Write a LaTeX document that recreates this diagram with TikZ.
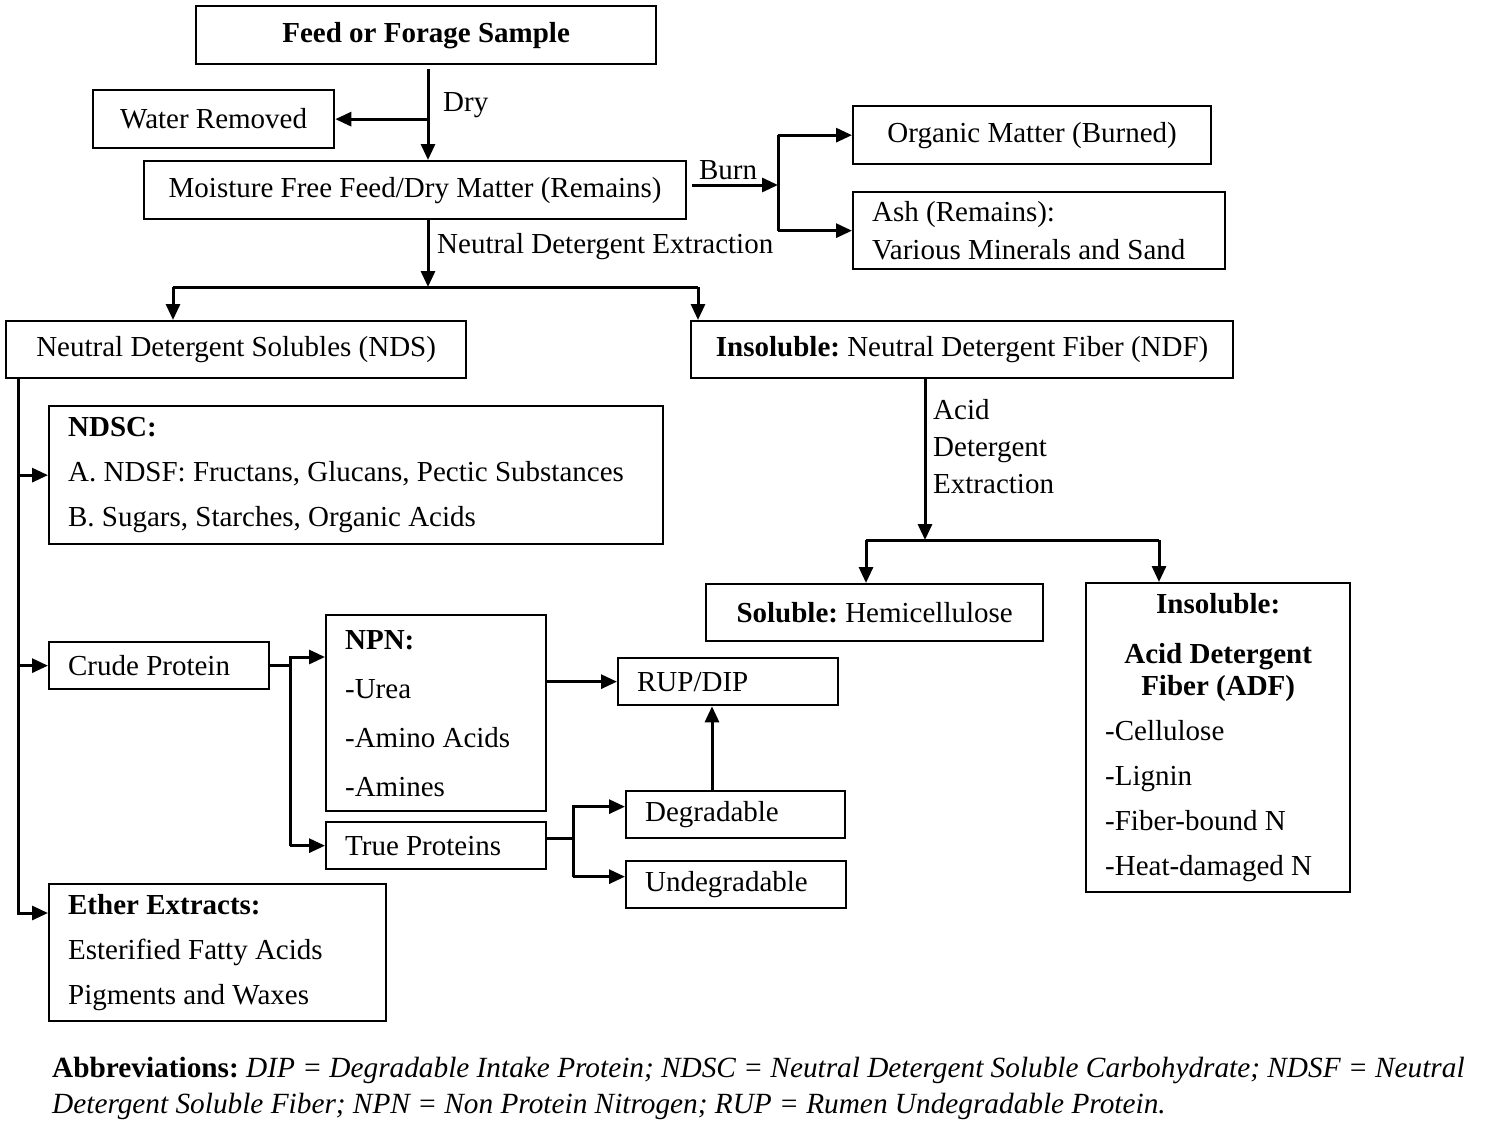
\documentclass[tikz,border=0pt]{standalone}
\usepackage{fontspec}
\setmainfont{Liberation Serif}
\usetikzlibrary{arrows.meta,positioning}
\tikzset{
  box/.style={draw, line width=2.3pt, anchor=north west, inner sep=0pt, align=center,
    font=\fontsize{29pt}{45pt}\selectfont},
  lbox/.style={box, align=flush left, inner xsep=19pt},
  arr/.style={line width=3pt, -{Triangle[length=16pt,width=14pt]}},
  ln/.style={line width=3pt},
  lbl/.style={anchor=west, inner sep=0pt, font=\fontsize{29pt}{37pt}\selectfont},
}

\begin{document}
\frenchspacing
\begin{tikzpicture}[x=1pt,y=-1pt]
\useasboundingbox (0,0) rectangle (1500,1140);

% top part
\node[box, minimum width=460pt, minimum height=58pt] (feed) at (195,5) {\textbf{Feed or Forage Sample}};
\node[box, minimum width=241pt, minimum height=58pt] (water) at (92,89) {Water Removed};
\node[box, minimum width=542pt, minimum height=58pt] (dm) at (143,160) {Moisture Free Feed/Dry Matter (Remains)};
\node[box, minimum width=358pt, minimum height=58pt] (om) at (852,105) {Organic Matter (Burned)};
\node[lbox, text width=334pt, minimum height=77pt, font=\fontsize{29pt}{38pt}\selectfont] (ash) at (852,191)
  {Ash (Remains):\\Various Minerals and Sand};
\node[box, minimum width=460pt, minimum height=57pt] (nds) at (5,320) {Neutral Detergent Solubles (NDS)};
\node[box, minimum width=542pt, minimum height=57pt] (ndf) at (690,320) {\textbf{Insoluble:} Neutral Detergent Fiber (NDF)};

% solubles
\node[lbox, text width=576pt, minimum height=138pt] (ndsc) at (48,405)
  {\textbf{NDSC:}\\A. NDSF: Fructans, Glucans, Pectic Substances\\B. Sugars, Starches, Organic Acids};
\node[lbox, text width=182pt, minimum height=47pt] (cp) at (48,641) {Crude Protein};
\node[lbox, text width=182pt, minimum height=196pt, font=\fontsize{29pt}{49pt}\selectfont] (npn) at (325,614)
  {\textbf{NPN:}\\-Urea\\-Amino Acids\\-Amines};
\node[lbox, text width=182pt, minimum height=47pt] (tp) at (325,821) {True Proteins};
\node[lbox, text width=182pt, minimum height=47pt] (rup) at (617,657) {RUP/DIP};
\node[lbox, text width=181pt, minimum height=47pt] (deg) at (625,790) {Degradable};
\node[lbox, text width=182pt, minimum height=47pt] (undeg) at (625,860) {Undegradable};
\node[lbox, text width=299pt, minimum height=137pt] (ether) at (48,883)
  {\textbf{Ether Extracts:}\\Esterified Fatty Acids\\Pigments and Waxes};

% fiber
\node[box, minimum width=337pt, minimum height=57pt] (hemi) at (705,583) {\textbf{Soluble:} Hemicellulose};
\node[lbox, text width=226pt, minimum height=309pt] (adf) at (1085,582)
  {\makebox[226pt]{\textbf{Insoluble:}}\\[5pt]
   \makebox[226pt]{\textbf{Acid Detergent}}\\[-13pt]
   \makebox[226pt]{\textbf{Fiber (ADF)}}\\
   -Cellulose\\-Lignin\\-Fiber-bound N\\-Heat-damaged N};

% labels
\node[lbl] (dry) at (443,105) {Dry};
\node[lbl, anchor=south] (burn) at (728,180) {Burn};
\node[lbl] (nde) at (437,247) {Neutral Detergent Extraction};
\node[lbl, anchor=north west, align=left] (ade) at (933,399) {Acid\\Detergent\\Extraction};

\node[anchor=west, inner sep=0pt, align=flush left, font=\fontsize{29.3pt}{36pt}\selectfont] (abbr) at (52,1088)
  {\textbf{Abbreviations:} \textit{DIP = Degradable Intake Protein; NDSC = Neutral Detergent Soluble Carbohydrate; NDSF = Neutral}\\
   \textit{Detergent Soluble Fiber; NPN = Non Protein Nitrogen; RUP = Rumen Undegradable Protein.}};

% connectors
\coordinate (stem) at (428,0);
\draw[arr] ([yshift=-4pt]stem |- feed.south) -- (stem |- dm.north);
\draw[arr] (stem |- water.east) -- (water.east);

\coordinate (burnfork) at (778,185);
\draw[arr] (dm.east |- burnfork) ++(5,0) -- (burnfork);
\draw[ln] (burnfork |- om.west) -- (burnfork |- ash.west);
\draw[arr] (burnfork |- om.west) -- (om.west);
\draw[arr] (burnfork |- ash.west) -- (ash.west);

\coordinate (fl) at (173,287);
\coordinate (fr) at (698,287);
\draw[arr] (stem |- dm.south) -- (stem |- fl);
\draw[ln] (fl) -- (fr);
\draw[arr] (fl) -- (fl |- nds.north);
\draw[arr] (fr) -- (fr |- ndf.north);

\coordinate (rail) at (18,0);
\coordinate (etherin) at ([yshift=-30pt]ether.north west);
\draw[arr] (rail |- nds.south) |- (etherin);
\draw[arr] (rail |- ndsc.west) -- (ndsc.west);
\draw[arr] (rail |- cp.west) -- (cp.west);

\coordinate (cpfork) at (290,0);
\coordinate (npnin) at ([yshift=-43pt]npn.north west);
\draw[ln] (cp.east) -- (cpfork |- cp.east);
\draw[arr] (cpfork |- tp.west) |- (npnin);
\draw[arr] (cpfork |- tp.west) -- (tp.west);
\draw[arr] (npn.east |- rup.west) -- (rup.west);

\coordinate (tpfork) at (573,0);
\coordinate (tpout) at ([yshift=7pt]tp.east);
\coordinate (degin) at ([yshift=8pt]deg.west);
\coordinate (undegin) at ([yshift=8pt]undeg.west);
\draw[ln] (tpout) -- (tpfork |- tpout);
\draw[arr] (tpfork |- undegin) |- (degin);
\draw[arr] (tpfork |- undegin) -- (undegin);
\coordinate (up) at (712,0);
\draw[arr] (up |- deg.north) -- (up |- rup.south);

\coordinate (adstem) at (925,0);
\coordinate (al) at (866,540);
\coordinate (ar) at (1159,540);
\draw[arr] (adstem |- ndf.south) -- (adstem |- al);
\draw[ln] (al) -- (ar);
\draw[arr] (al) -- (al |- hemi.north);
\draw[arr] (ar) -- (ar |- adf.north);
\end{tikzpicture}
\end{document}
